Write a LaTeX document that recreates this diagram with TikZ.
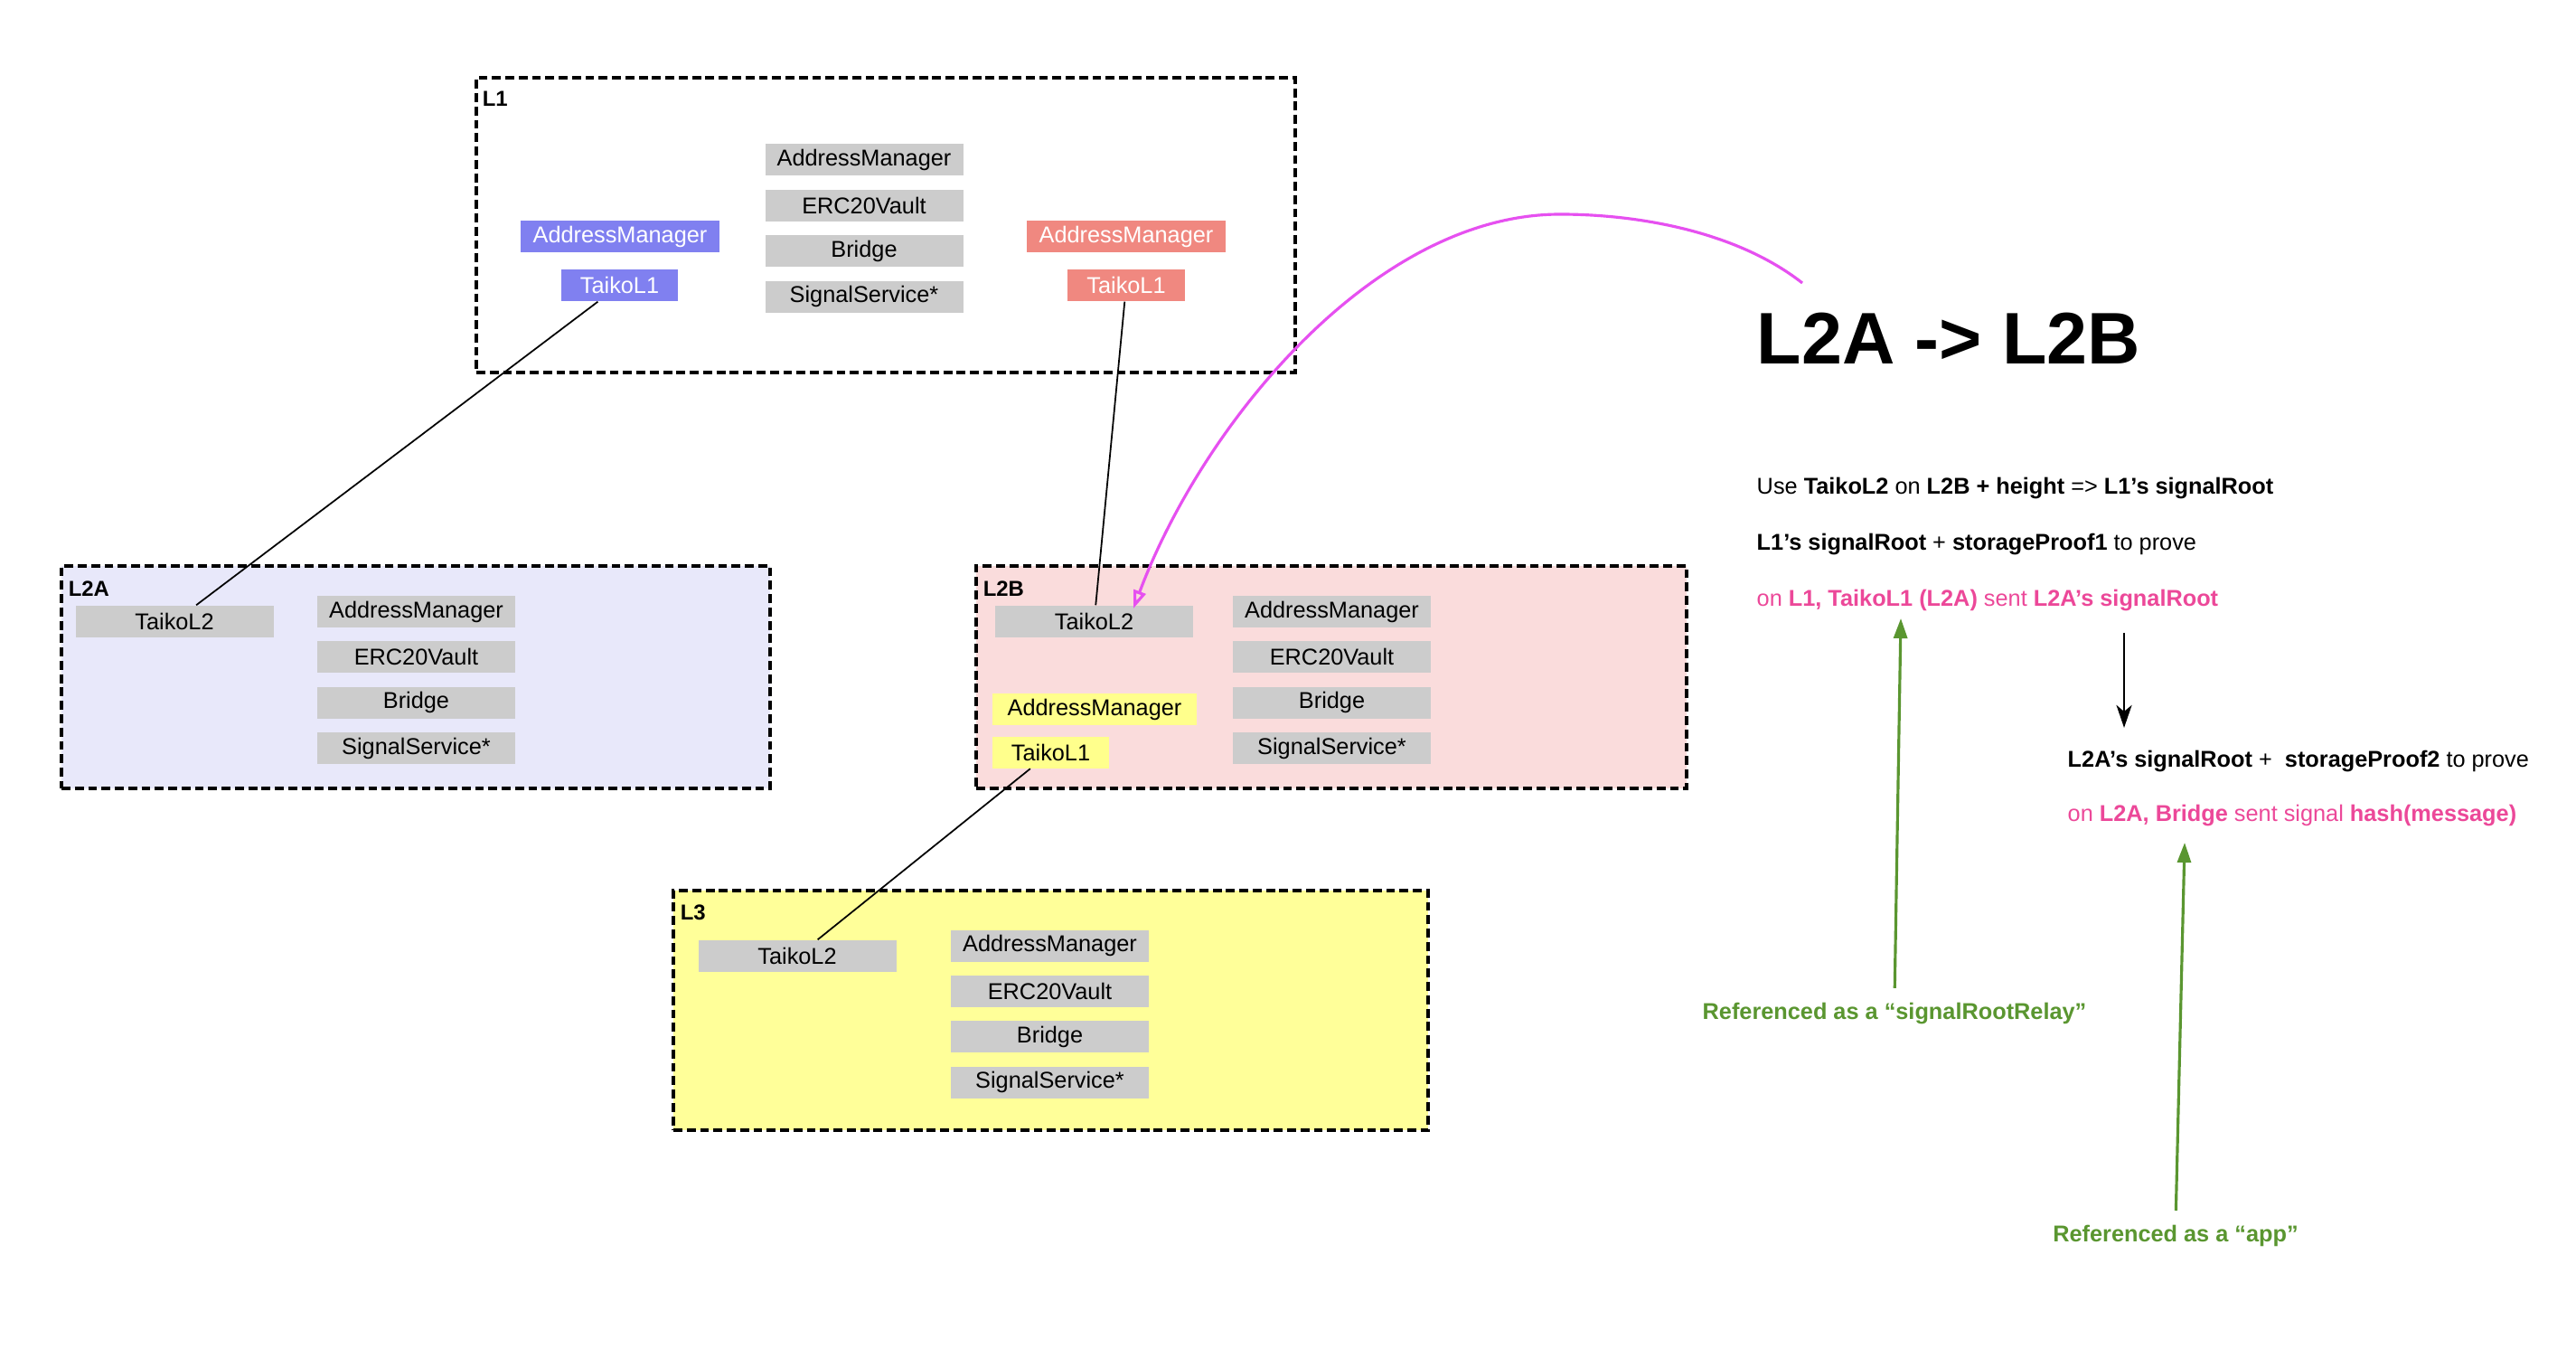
\documentclass[tikz,border=0pt]{standalone}
\usepackage{fontspec}
\setmainfont{Liberation Sans}
\usetikzlibrary{arrows.meta, positioning}

\definecolor{boxgray}{HTML}{CCCCCC}
\definecolor{lblue}{HTML}{8080F0}
\definecolor{lred}{HTML}{F08880}
\definecolor{lyellow}{HTML}{FFFF8C}
\definecolor{fillA}{HTML}{E8E8FA}
\definecolor{fillB}{HTML}{FADCDC}
\definecolor{fillC}{HTML}{FFFF99}
\definecolor{notepink}{HTML}{EC4899}
\definecolor{notegreen}{HTML}{5A9630}
\definecolor{arcmagenta}{HTML}{E650F0}

\newcommand{\diagfont}{\fontsize{7.2pt}{8.6pt}\selectfont}
\newcommand{\bigfnt}{\fontsize{23pt}{27pt}\selectfont\bfseries}
\newcommand{\lblfont}{\fontsize{6.8pt}{8pt}\selectfont\bfseries}

\begin{document}
\begin{tikzpicture}[
    graybox/.style={rectangle, fill=boxgray, inner sep=0pt, minimum width=2.19cm, minimum height=0.35cm, font=\diagfont},
    region/.style={rectangle, draw, line width=1.1pt, dash pattern=on 2.8pt off 1.4pt, inner sep=0pt},
    regionlabel/.style={inner sep=0pt, font=\lblfont},
    note/.style={inner sep=0pt, anchor=base west, font=\diagfont},
    refnote/.style={inner sep=0pt, anchor=base, font=\diagfont\bfseries, text=notegreen},
    link/.style={line width=0.5pt},
    refarrow/.style={draw=notegreen, line width=0.9pt, -{Triangle[length=0.22cm, width=0.15cm]}},
    flowarrow/.style={line width=0.8pt, -{Stealth[length=0.25cm, width=0.17cm, inset=0.07cm]}},
    sigcurve/.style={draw=arcmagenta, line width=0.9pt, -{Triangle[open, length=0.2cm, width=0.14cm]}}
  ]
    \fill[white] (0, 0) rectangle (28.5, -15.02);
    \useasboundingbox (0, 0) rectangle (28.5, -15.02);

    % layers
    \node[region, minimum width=9.06cm, minimum height=3.26cm] at (9.80, -2.49) (l1) {};
    \node[region, fill=fillA, minimum width=7.84cm, minimum height=2.46cm] at (4.60, -7.49) (l2a) {};
    \node[region, fill=fillB, minimum width=7.86cm, minimum height=2.46cm] at (14.73, -7.49) (l2b) {};
    \node[region, fill=fillC, minimum width=8.35cm, minimum height=2.65cm] at (11.625, -11.175) (l3) {};

    \node[regionlabel, below right=0.16cm and 0.08cm of l1.north west] (l1lbl) {L1};
    \node[regionlabel, below right=0.18cm and 0.09cm of l2a.north west] (l2albl) {L2A};
    \node[regionlabel, below right=0.18cm and 0.09cm of l2b.north west] (l2blbl) {L2B};
    \node[regionlabel, below right=0.17cm and 0.09cm of l3.north west] (l3lbl) {L3};

    % L1
    \node[graybox] at (9.56, -1.77) (l1am) {AddressManager};
    \node[graybox, below=0.14cm of l1am] (l1vault) {ERC20Vault};
    \node[graybox, below=0.14cm of l1vault] (l1bridge) {Bridge};
    \node[graybox, below=0.14cm of l1bridge] (l1signal) {SignalService*};

    \node[graybox, fill=lblue, text=white, minimum width=2.20cm] at (6.86, -2.62) (l1amA) {AddressManager};
    \node[graybox, fill=lblue, text=white, minimum width=1.29cm] at (6.855, -3.155) (l1taikoA) {TaikoL1};
    \node[graybox, fill=lred, text=white, minimum width=2.20cm] at (12.46, -2.62) (l1amB) {AddressManager};
    \node[graybox, fill=lred, text=white, minimum width=1.30cm] at (12.46, -3.155) (l1taikoB) {TaikoL1};

    % L2A
    \node[graybox] at (1.93, -6.875) (l2ataiko) {TaikoL2};
    \node[graybox] at (4.605, -6.765) (l2aam) {AddressManager};
    \node[graybox, below=0.14cm of l2aam] (l2avault) {ERC20Vault};
    \node[graybox, below=0.14cm of l2avault] (l2abridge) {Bridge};
    \node[graybox, below=0.14cm of l2abridge] (l2asignal) {SignalService*};

    % L2B
    \node[graybox] at (12.105, -6.875) (l2btaiko) {TaikoL2};
    \node[graybox] at (14.735, -6.765) (l2bam) {AddressManager};
    \node[graybox, below=0.14cm of l2bam] (l2bvault) {ERC20Vault};
    \node[graybox, below=0.14cm of l2bvault] (l2bbridge) {Bridge};
    \node[graybox, below=0.14cm of l2bbridge] (l2bsignal) {SignalService*};

    \node[graybox, fill=lyellow, minimum width=2.26cm] at (12.11, -7.845) (l2bamC) {AddressManager};
    \node[graybox, fill=lyellow, minimum width=1.29cm] at (11.625, -8.32) (l2btaikoC) {TaikoL1};

    % L3
    \node[graybox] at (8.82, -10.575) (l3taiko) {TaikoL2};
    \node[graybox] at (11.615, -10.46) (l3am) {AddressManager};
    \node[graybox, below=0.14cm of l3am] (l3vault) {ERC20Vault};
    \node[graybox, below=0.14cm of l3vault] (l3bridge) {Bridge};
    \node[graybox, below=0.14cm of l3bridge] (l3signal) {SignalService*};

    \draw[link] (l1taikoA) -- (l2ataiko);
    \draw[link] (l1taikoB) -- (l2btaiko);
    \draw[link] (l2btaikoC) -- (l3taiko);

    % notes
    \node[inner sep=0pt, anchor=base west, font=\bigfnt] at (19.43, -4.03) (title) {L2A -> L2B};

    \node[note] at (19.43, -5.47) (txt1) {Use \textbf{TaikoL2} on \textbf{L2B + height} => \textbf{L1’s signalRoot}};
    \node[note] at (19.43, -6.09) (txt2) {\textbf{L1’s signalRoot} + \textbf{storageProof1} to prove};
    \node[note, text=notepink] at (19.43, -6.71) (txt3) {on \textbf{L1, TaikoL1 (L2A)} sent \textbf{L2A’s signalRoot}};
    \node[note] at (22.87, -8.48) (txt4) {\textbf{L2A’s signalRoot} +\ \ \textbf{storageProof2} to prove};
    \node[note, text=notepink] at (22.87, -9.08) (txt5) {on \textbf{L2A, Bridge} sent signal \textbf{hash(message)}};

    \node[refnote] at (20.96, -11.27) (rel1) {Referenced as a “signalRootRelay”};
    \node[refnote] at (24.07, -13.73) (rel2) {Referenced as a “app”};

    \coordinate (relaytip) at (21.03, -6.84);
    \coordinate (apptip) at (24.17, -9.32);
    \coordinate (prooftop) at (23.50, -7.00);
    \coordinate (magstart) at (19.94, -3.13);
    \coordinate (magend) at (12.54, -6.73);

    \draw[refarrow, shorten <=0.15cm] (rel1.north) -- (relaytip);
    \draw[refarrow, shorten <=0.15cm] (rel2.north) -- (apptip);
    \draw[flowarrow, shorten >=0.24cm] (prooftop) -- (prooftop |- txt4.north);

    \draw[sigcurve] (magstart) .. controls (19.20, -2.55) and (18.10, -2.37) .. (17.26, -2.37)
      .. controls (15.20, -2.37) and (13.30, -4.70) .. (magend);

  \end{tikzpicture}
\end{document}
